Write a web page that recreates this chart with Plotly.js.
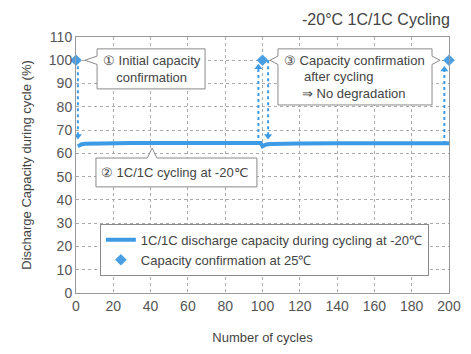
<!DOCTYPE html>
<html>
<head>
<meta charset="utf-8">
<script src="https://cdn.plot.ly/plotly-3.0.1.min.js"></script>
<style>html,body{margin:0;padding:0;background:#fff;}#chart{width:471px;height:354px;}</style>
</head>
<body>
<div id="chart"></div>
<script>
// ---- data ----
var cycles = [1, 2, 3, 5, 8, 12, 20, 30, 40, 60, 80, 99, 100, 101, 102, 104, 107, 112, 120, 140, 160, 180, 200];
var capacity = [63.0, 63.6, 63.9, 64.1, 64.2, 64.3, 64.4, 64.5, 64.5, 64.5, 64.5, 64.5, 63.0, 63.5, 63.8, 64.0, 64.1, 64.2, 64.2, 64.3, 64.3, 64.3, 64.3];
var confirmCycles = [0, 100, 200];
var confirmValues = [100, 100, 100];
// dotted arrows: x, start value, tip value
var arrowX = [1, 97.8, 103, 197.5];
var arrowFrom = [100, 64, 100, 64];
var arrowTo = [67.5, 97, 67.5, 96];
var xTicks = [0, 20, 40, 60, 80, 100, 120, 140, 160, 180, 200];
var yTicks = [0, 10, 20, 30, 40, 50, 60, 70, 80, 90, 100, 110];

var blue = '#3d9be6';
var txt = '#444';
var font = 'Liberation Sans, Arial, sans-serif';

var traces = [
  {x: cycles, y: capacity, mode: 'lines', name: '1C/1C discharge capacity during cycling at -20℃',
   line: {color: blue, width: 4}, hoverinfo: 'skip'},
  {x: confirmCycles, y: confirmValues, mode: 'markers', name: 'Capacity confirmation at 25℃',
   marker: {symbol: 'diamond', size: 9, color: '#4a9fe3'}, hoverinfo: 'skip', cliponaxis: false}
];
// arrow shafts & heads
var headX = [], headY = [], headSym = [];
for (var i = 0; i < arrowX.length; i++) {
  traces.push({x: [arrowX[i], arrowX[i]], y: [arrowFrom[i], arrowTo[i]], mode: 'lines', showlegend: false,
    line: {color: blue, width: 2, dash: 'dot'}, hoverinfo: 'skip'});
  headX.push(arrowX[i]); headY.push(arrowTo[i]);
  headSym.push(arrowTo[i] < arrowFrom[i] ? 'triangle-down' : 'triangle-up');
}
traces.push({x: headX, y: headY, mode: 'markers', showlegend: false, hoverinfo: 'skip',
  marker: {symbol: headSym, size: 7, color: blue}});

// callout boxes [x0, x1, y0, y1]
var box1 = [11.3, 69.2, 87.7, 104.9];
var box2 = [10.7, 97.0, 45.6, 58.0];
var box3 = [108.3, 190.9, 80.8, 104.9];
function boxPath(b, ptrs) {
  var p = 'M' + b[0] + ',' + b[3] + ' L' + b[1] + ',' + b[3];
  if (ptrs.right) p += ' L' + b[1] + ',' + (ptrs.right[1] + 1.8) + ' L' + ptrs.right[0] + ',' + ptrs.right[1] + ' L' + b[1] + ',' + (ptrs.right[1] - 1.8);
  p += ' L' + b[1] + ',' + b[2] + ' L' + b[0] + ',' + b[2];
  if (ptrs.left) p += ' L' + b[0] + ',' + (ptrs.left[1] - 1.8) + ' L' + ptrs.left[0] + ',' + ptrs.left[1] + ' L' + b[0] + ',' + (ptrs.left[1] + 1.8);
  p += ' Z';
  return p;
}
function boxPathTop(b, apex) {
  return 'M' + b[0] + ',' + b[3] + ' L' + (apex[0] - 2.6) + ',' + b[3] + ' L' + apex[0] + ',' + apex[1] + ' L' + (apex[0] + 2.6) + ',' + b[3] +
    ' L' + b[1] + ',' + b[3] + ' L' + b[1] + ',' + b[2] + ' L' + b[0] + ',' + b[2] + ' Z';
}
var shapeLine = {color: '#8a8a8a', width: 1};
var shapes = [
  {type: 'path', xref: 'x', yref: 'y', path: boxPath(box1, {left: [4.8, 100]}), fillcolor: '#fff', line: shapeLine},
  {type: 'path', xref: 'x', yref: 'y', path: boxPathTop(box2, [40.8, 62.3]), fillcolor: '#fff', line: shapeLine},
  {type: 'path', xref: 'x', yref: 'y', path: boxPath(box3, {left: [104, 100], right: [195.2, 100]}), fillcolor: '#fff', line: shapeLine}
];

var af = {family: font, size: 13, color: txt};
var annotations = [
  {xref: 'paper', yref: 'paper', x: 1.008, y: 1.07, xanchor: 'right', yanchor: 'middle', text: '-20°C 1C/1C Cycling', showarrow: false,
   font: {family: font, size: 16, color: txt}},
  {xref: 'x', yref: 'y', x: 41, y: 96.3, text: '① Initial capacity<br>confirmation', showarrow: false, font: af, align: 'center'},
  {xref: 'x', yref: 'y', x: 12.5, y: 51.8, text: '② 1C/1C cycling at -20℃', showarrow: false, font: af, xanchor: 'left'},
  {xref: 'x', yref: 'y', x: 110.7, y: 100, text: '③ Capacity confirmation', showarrow: false, font: af, xanchor: 'left'},
  {xref: 'x', yref: 'y', x: 121, y: 93.1, text: 'after cycling', showarrow: false, font: af, xanchor: 'left'},
  {xref: 'x', yref: 'y', x: 120, y: 85.8, text: '⇒ No degradation', showarrow: false, font: af, xanchor: 'left'}
];

var layout = {
  width: 471, height: 354,
  margin: {l: 76, r: 22, t: 37, b: 61},
  paper_bgcolor: '#fff', plot_bgcolor: '#fff',
  font: {family: font, color: txt},
  xaxis: {range: [0, 200], tickvals: xTicks, ticks: '', showline: true, mirror: true, linecolor: '#999', linewidth: 1,
    showgrid: true, gridcolor: '#aaa', griddash: 'dot', gridwidth: 1, zeroline: false,
    tickfont: {family: font, size: 14, color: '#555'},
    title: {text: 'Number of cycles', font: {family: font, size: 13, color: txt}, standoff: 20}},
  yaxis: {range: [0, 110], tickvals: yTicks, ticks: '', showline: true, mirror: true, linecolor: '#999', linewidth: 1,
    showgrid: true, gridcolor: '#aaa', griddash: 'dot', gridwidth: 1, zeroline: false,
    tickfont: {family: font, size: 14, color: '#555'},
    title: {text: 'Discharge Capacity during cycle (%)', font: {family: font, size: 13, color: txt}, standoff: 14}},
  showlegend: true,
  legend: {x: 0.064, y: 0.27, xanchor: 'left', yanchor: 'top', bgcolor: '#fff', bordercolor: '#8a8a8a', borderwidth: 1,
    font: {family: font, size: 13, color: txt}, itemwidth: 30},
  shapes: shapes,
  annotations: annotations
};

Plotly.newPlot('chart', traces, layout, {displayModeBar: false, staticPlot: true});
</script>
</body>
</html>
